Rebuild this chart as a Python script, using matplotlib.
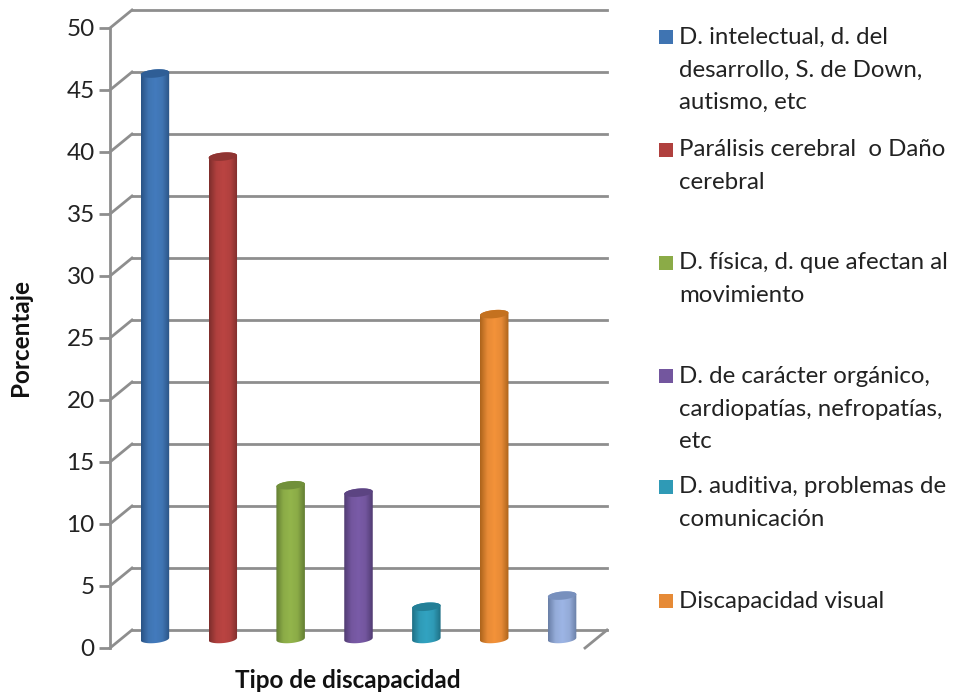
import numpy as np
import matplotlib
matplotlib.use("Agg")
import matplotlib.pyplot as plt
from matplotlib.colors import LinearSegmentedColormap, to_rgb
from matplotlib.patches import PathPatch, Rectangle
from matplotlib.path import Path
from matplotlib.transforms import Affine2D

plt.rcParams["font.family"] = ["Lato", "DejaVu Sans"]

values = [45.6, 38.9, 12.4, 11.8, 2.6, 26.2, 3.5]
colors = ["#3f74b2", "#b0403e", "#8bab47", "#73569e", "#2f9ab6", "#e68a36", "#94abd8"]
edge_colors = ["#2f5e96", "#8f3432", "#71903a", "#5c4482", "#237f97", "#c4711f", "#7890bd"]
legend_labels = [
    "D. intelectual, d. del\ndesarrollo, S. de Down,\nautismo, etc",
    "Parálisis cerebral  o Daño\ncerebral",
    "D. física, d. que afectan al\nmovimiento",
    "D. de carácter orgánico,\ncardiopatías, nefropatías,\netc",
    "D. auditiva, problemas de\ncomunicación",
    "Discapacidad visual",
]
legend_first_line_y = [37, 150, 263, 376, 487, 601]
legend_center_y = [70, 166, 279, 409, 503, 601]
yticks = list(range(0, 55, 5))

W, H = 960, 692
GRAY = "#8e8e8e"

fig = plt.figure(figsize=(W / 100, H / 100), dpi=100)
ax = fig.add_axes([110 / W, 1 - 648 / H, 475 / W, 620 / H])
ax.set_xlim(0, 7)
ax.set_ylim(0, 50)
ax.patch.set_visible(False)

for s in ["top", "right", "bottom"]:
    ax.spines[s].set_visible(False)
ax.spines["left"].set_color(GRAY)
ax.spines["left"].set_linewidth(2)
ax.set_xticks([])
ax.set_yticks(yticks)
ax.tick_params(axis="y", length=8, width=2, color=GRAY, labelsize=17.5, labelcolor="#222222", pad=3)

ax.set_ylabel("Porcentaje", fontsize=17.5, fontweight="bold", labelpad=25, color="#111111")
ax.set_xlabel("Tipo de discapacidad", fontsize=17.5, fontweight="bold", labelpad=15, color="#111111")

# 3d look: back wall and the bars are the front axes shifted by some pixels
back = ax.transData + Affine2D().translate(22, 18)
mid = ax.transData + Affine2D().translate(11, 9)

for tick in yticks:
    ax.plot([0, 7], [tick, tick], color=GRAY, lw=2, transform=back, clip_on=False, zorder=1)
    x0, y0 = ax.transData.transform((0, tick))
    ax.plot([x0, x0 + 22], [y0, y0 + 18], color=GRAY, lw=2, transform=None, clip_on=False, zorder=1)
x1, y1 = ax.transData.transform((7, 0))
ax.plot([x1, x1 + 22], [y1, y1 + 18], color=GRAY, lw=2, transform=None, clip_on=False, zorder=1)

half_w = 0.21
rise = 0.33
tilt = 0.1


def ellipse_arc(xc, yc, start, end):
    ang = np.linspace(start, end, 40)
    xs = xc + half_w * np.cos(ang)
    ys = yc + rise * np.sin(ang) + tilt * np.cos(ang)
    return xs, ys


for i, (val, col, edge) in enumerate(zip(values, colors, edge_colors)):
    xc = i + 0.5
    # body: top edge of the cylinder then bottom arc
    tx, ty = ellipse_arc(xc, val, 0, np.pi)
    bx, by = ellipse_arc(xc, 0, np.pi, 2 * np.pi)
    body = np.column_stack([np.r_[tx, bx], np.r_[ty, by]])
    clip = PathPatch(Path(np.vstack([body, body[:1]])), transform=mid, fc="none", ec="none")
    ax.add_patch(clip)

    base = np.array(to_rgb(col))
    dark = np.array(to_rgb(edge)) * 0.88
    light = np.minimum(base * 1.06, 1)
    cmap = LinearSegmentedColormap.from_list("cyl", [dark, base, light, base, dark])
    grad = np.linspace(0, 1, 64).reshape(1, -1)
    img = ax.imshow(grad, cmap=cmap, extent=[xc - half_w, xc + half_w, -1, val + 1],
                    aspect="auto", transform=mid, zorder=3, interpolation="bilinear")
    img.set_clip_path(clip)

    # top cap
    cx, cy = ellipse_arc(xc, val, 0, 2 * np.pi)
    ax.fill(cx, cy, color=edge, transform=mid, zorder=4, clip_on=False, lw=0)

ax.set_xlim(0, 7)
ax.set_ylim(0, 50)

for label, line_y, center_y, col in zip(legend_labels, legend_first_line_y, legend_center_y, colors):
    fig.patches.append(Rectangle((659 / W, 1 - (line_y + 7) / H), 14 / W, 14 / H,
                                 transform=fig.transFigure, fc=col, ec="none"))
    fig.text(679 / W, 1 - center_y / H, label, fontsize=17.3, va="center", ha="left",
             linespacing=1.66, color="#222222")

fig.savefig("out.png", dpi=100)
